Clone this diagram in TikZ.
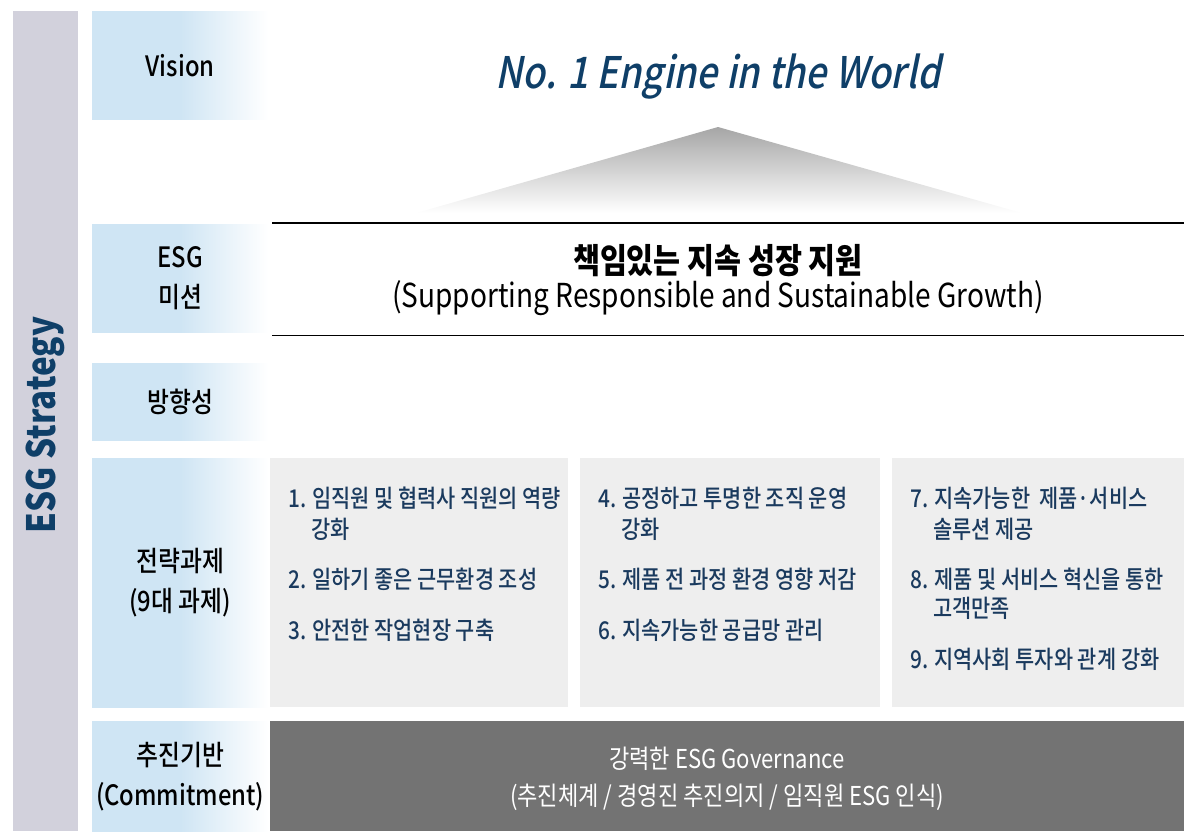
\documentclass[tikz,border=0pt]{standalone}
\usepackage{fontspec}
\setmainfont{Noto Sans CJK KR}[FakeStretch=0.85]
\newfontfamily\medfont{Noto Sans CJK KR Medium}[FakeStretch=0.85]
\newfontfamily\titlefont{Noto Sans CJK KR Medium}[FakeStretch=0.85, FakeSlant=0.2]

\definecolor{stripc}{HTML}{D2D1DC}
\definecolor{lblue}{HTML}{CFE5F4}
\definecolor{panelc}{HTML}{EEEEEE}
\definecolor{govc}{HTML}{737373}
\definecolor{titlec}{HTML}{0F3F68}
\definecolor{itemc}{HTML}{1A3A5E}

% label boxes fade to white on the right
\pgfdeclarehorizontalshading{lblfade}{100bp}{color(0bp)=(lblue); color(25bp)=(lblue); color(50bp)=(lblue); color(75bp)=(white); color(100bp)=(white)}

\tikzset{
  lblbox/.style={shading=lblfade, anchor=north west, inner sep=0pt,
    minimum width=176pt, align=center, font=\medfont\fontsize{28}{40}\selectfont},
  panel/.style={fill=panelc, anchor=north west, inner sep=0pt, minimum height=249pt},
  item/.style={anchor=base west, inner sep=0pt, text=itemc, font=\medfont\fontsize{24.5}{28}\selectfont},
}

\begin{document}
\begin{tikzpicture}[x=1pt,y=-1pt]
	\useasboundingbox (0,0) rectangle (1184,831);
	
	% Strategy strip
	\fill[stripc] (13,11) rectangle (78,831);
	\node[rotate=90, text=titlec, font=\bfseries\fontsize{39}{42}\selectfont] (strat) at (45,425) {ESG Strategy};
	
	% Row labels
	\node[lblbox, minimum height=108pt] (vis) at (92,11) {Vision};
	\node[lblbox, minimum height=108pt] (mis) at (92,224) {ESG\\미션};
	\node[lblbox, minimum height=77pt] (dir) at (92,363) {방향성};
	\node[lblbox, minimum height=249pt] (task) at (92,458) {전략과제\\(9대 과제)};
	\node[lblbox, minimum height=110pt] (base) at (92,721) {추진기반\\(Commitment)};
	
	% Vision
	\node[text=titlec, font=\titlefont\fontsize{43.5}{46}\selectfont] (title) at (718,77) {No. 1 Engine in the World};
	\shade[top color=black!35, bottom color=white] (718,127) -- (1022,213) -- (416,213) -- cycle;
	
	% Mission
	\draw[line width=2.5pt] (272,223) -- (1184,223);
	\node[font=\bfseries\fontsize{34.5}{36}\selectfont] (misk) at (718,261) {책임있는 지속 성장 지원};
	\node[font=\fontsize{33}{36}\selectfont] (mise) at (718,298) {(Supporting Responsible and Sustainable Growth)};
	\draw[line width=1pt] (272,335) -- (1184,335);
	
	% Strategic tasks
	\node[panel, minimum width=298pt] (p1) at (270,458) {};
	\node[panel, minimum width=300pt] (p2) at (580,458) {};
	\node[panel, minimum width=292pt] (p3) at (892,458) {};
	
	\node[item] (t1) at (288,507) {1. 임직원 및 협력사 직원의 역량};
	\node[item] (t1b) at (311,538) {강화};
	\node[item] (t2) at (288,588) {2. 일하기 좋은 근무환경 조성};
	\node[item] (t3) at (288,639) {3. 안전한 작업현장 구축};
	
	\node[item] (t4) at (598,507) {4. 공정하고 투명한 조직 운영};
	\node[item] (t4b) at (621,538) {강화};
	\node[item] (t5) at (598,588) {5. 제품 전 과정 환경 영향 저감};
	\node[item] (t6) at (598,639) {6. 지속가능한 공급망 관리};
	
	\node[item] (t7) at (910,507) {7. 지속가능한\ \ 제품·서비스};
	\node[item] (t7b) at (933,538) {솔루션 제공};
	\node[item] (t8) at (910,588) {8. 제품 및 서비스 혁신을 통한};
	\node[item] (t8b) at (933,617) {고객만족};
	\node[item] (t9) at (910,668) {9. 지역사회 투자와 관계 강화};
	
	% Commitment
	\node[fill=govc, anchor=north west, inner sep=0pt, minimum width=914pt, minimum height=110pt] (gov) at (270,721) {};
	\node[text=white, font=\fontsize{26}{28}\selectfont] (gov1) at (727,759) {강력한 ESG Governance};
	\node[text=white, font=\fontsize{26}{28}\selectfont] (gov2) at (727,797) {(추진체계 / 경영진 추진의지 / 임직원 ESG 인식)};
	
\end{tikzpicture}
\end{document}
